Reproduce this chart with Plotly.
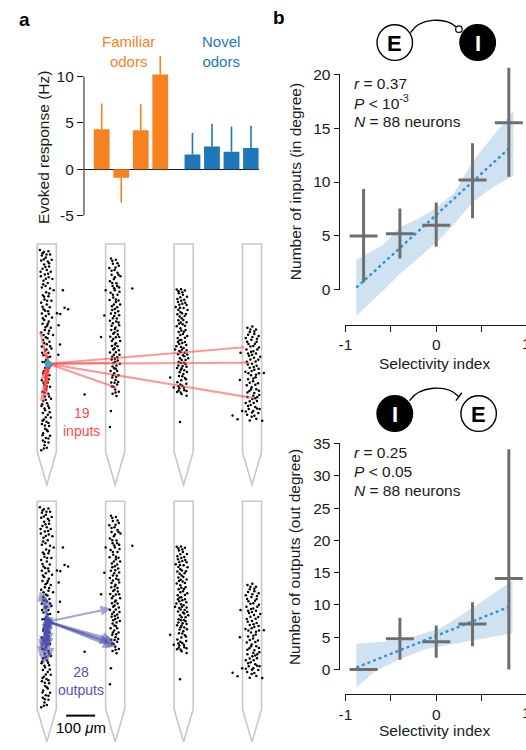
import plotly.graph_objects as go

FONT = "Liberation Sans, Arial, Helvetica, sans-serif"
W, H = 526, 750

# ---------------- data ----------------
familiar_resp = [4.3, -0.9, 4.2, 10.2]
familiar_err_end = [7.1, -3.6, 7.0, 12.2]
novel_resp = [1.6, 2.45, 1.9, 2.3]
novel_err_end = [3.9, 4.9, 4.6, 4.7]

selectivity_bins = [-0.8, -0.4, 0.0, 0.4, 0.8]
in_deg_mean = [5.0, 5.2, 6.0, 10.2, 15.5]
in_deg_hi = [9.35, 7.55, 8.1, 13.6, 20.6]
in_deg_lo = [0.7, 2.9, 4.0, 6.65, 10.5]
out_deg_mean = [0.0, 4.75, 4.3, 7.05, 14.1]
out_deg_hi = [0.0, 8.0, 6.8, 10.4, 34.1]
out_deg_lo = [0.0, 1.5, 1.8, 3.6, 0.0]

in_band_x = [-0.88, -0.6, -0.4, -0.2, 0.0, 0.2, 0.4, 0.6, 0.85]
in_band_hi = [2.8, 4.1, 5.8, 6.6, 7.6, 9.0, 11.9, 14.0, 16.6]
in_band_lo = [-2.4, -0.2, 1.5, 2.9, 4.4, 6.1, 8.1, 9.4, 10.6]
out_band_x = [-0.88, -0.67, -0.4, -0.13, 0.05, 0.42, 0.84]
out_band_hi = [4.0, 4.2, 4.5, 5.6, 6.4, 9.7, 13.8]
out_band_lo = [-2.8, -0.25, 1.6, 3.1, 3.6, 4.5, 5.6]
trend_x = [-0.88, 0.82]
in_trend = [0.2, 13.25]
out_trend = [0.3, 9.8]

# neuron positions (panel units) for each shank
shank1_dots = [(100,38),(112,44),(126,42),(106,55),(131,52),(118,61),(104,70),(124,73),(136,68),(113,82),(128,88),(108,95),(121,99),(133,104),(115,112),(103,118),(127,121),(138,126),(111,131),(124,138),(117,147),(106,152),(131,155),(142,160),(119,166),(109,175),(126,178),(114,188),(135,192),(104,198),(121,203),(130,212),(111,218),(125,224),(106,231),(118,238),(137,243),(113,250),(127,255),(108,262),(122,268),(133,274),(115,281),(104,288),(126,291),(140,296),(118,303),(110,311),(129,316),(121,324),(106,331),(135,337),(116,343),(126,350),(111,357),(131,362),(119,372),(108,378),(133,388),(116,396),(124,404),(110,412),(129,418),(117,425),(106,433),(124,440),(113,447),(131,453),(119,461),(108,468),(126,474),(115,482),(134,489),(110,496),(122,503),(105,511),(128,517),(116,524),(109,532),(124,538),(133,546),(112,552),(120,559),(106,566),(128,572),(116,580),(124,588),(110,594),(131,601),(118,608),(109,616),(126,622),(114,630),(121,638),(104,645),
               (108,48),(120,52),(112,66),(128,78),(117,90),(102,104),(125,110),(118,125),(110,142),(128,170),(113,180),(122,192),(108,210),(127,232),(116,222),(109,245),(124,262),(117,272),(128,283),(111,296),(123,306),(113,320),(131,330),(120,340),(107,350),(124,363),(115,378),(128,395),(112,406),(120,418),(127,430),(111,441),(121,452),(114,470),(128,482),(118,492),(107,506),(125,510),(114,519),(130,530),(118,545),(108,556),(126,563),(115,570),(121,584),(108,600),(126,610),(115,620),(112,640),
               (170,160),(175,213),(186,218),(162,232),(152,230),(157,266),(161,325),(156,356),(236,476)]
shank2_dots = [(316,64),(331,68),(322,80),(340,86),(311,93),(327,99),(336,107),(318,113),(345,118),(325,126),(313,133),(333,139),(321,147),(341,152),(328,160),(315,168),(336,174),(323,182),(312,190),(331,196),(344,203),(319,209),(328,217),(338,224),(316,231),(326,238),(334,246),(313,253),(322,260),(341,266),(330,273),(317,281),(327,288),(337,294),(314,301),(323,308),(344,314),(331,321),(319,329),(327,336),(340,342),(313,349),(325,356),(335,363),(318,370),(329,377),(343,383),(321,391),(331,398),(315,405),(326,412),(339,418),(320,425),(330,432),(317,440),(335,446),(324,453),(329,461),(340,468),(321,474),(333,481),
               (320,71),(336,78),(330,91),(318,101),(339,113),(328,121),(320,138),(335,147),(326,154),(342,165),(322,174),(331,188),(339,191),(325,203),(335,212),(320,220),(329,229),(341,236),(322,245),(332,255),(339,258),(318,268),(328,278),(336,283),(323,292),(331,303),(341,302),(319,314),(328,325),(336,330),(323,340),(331,348),(342,356),(320,362),(328,368),(337,373),(323,381),(333,388),(326,397),(335,405),(322,418),(332,423),(327,441),(338,438),(319,452),(330,470),
               (300,160),(381,155),(296,237),(286,302),(316,526),(313,575)]
shank3_dots = [(516,158),(529,157),(541,161),(523,169),(535,174),(547,180),(518,187),(530,192),(542,198),(524,204),(513,211),(537,214),(549,220),(527,226),(518,233),(540,238),(531,245),(521,251),(546,257),(534,263),(516,269),(527,275),(543,281),(522,287),(535,293),(548,299),(519,305),(530,311),(541,317),(524,323),(515,330),(537,335),(546,342),(528,348),(520,354),(539,360),(551,366),(531,372),(522,378),(543,384),(534,390),(517,396),(528,402),(547,408),(536,414),(523,420),(541,426),(530,433),(518,439),(545,444),(533,450),(524,457),(539,463),(517,469),(531,475),(546,480),
               (521,163),(533,166),(527,181),(539,189),(520,196),(533,201),(546,205),(526,213),(521,219),(532,230),(544,232),(525,240),(536,250),(528,258),(541,268),(523,262),(530,282),(538,286),(527,296),(541,304),(525,312),(533,320),(545,326),(520,317),(529,332),(540,350),(532,340),(524,344),(548,355),(535,357),(526,366),(543,372),(529,381),(538,380),(521,388),(546,392),(531,397),(539,403),(525,409),(533,421),(544,430),(527,446),(538,456),(521,451),(546,466),(528,470),(522,464),
               (496,425),(507,455),(526,560),(511,340)]
shank4_dots = [(731,274),(746,270),(757,279),(738,287),(752,293),(765,299),(726,305),(743,310),(759,316),(734,323),(749,329),(766,334),(728,340),(742,347),(757,352),(736,359),(751,365),(764,371),(729,377),(745,383),(759,389),(738,395),(752,401),(725,407),(766,412),(742,418),(756,424),(733,430),(748,436),(763,442),(729,448),(744,454),(758,460),(737,466),(752,472),(767,478),(731,484),(746,490),(760,496),(726,502),(741,508),(755,514),(735,520),(749,526),(764,532),(730,538),(744,544),(758,550),(738,555),
               (740,279),(752,285),(733,295),(746,302),(760,307),(730,316),(754,322),(740,331),(761,340),(749,345),(733,352),(745,356),(770,362),(740,370),(756,376),(732,385),(750,393),(765,398),(744,405),(734,412),(757,416),(749,428),(738,441),(755,447),(742,460),(766,465),(731,470),(749,480),(761,484),(755,488),(738,497),(750,502),(733,511),(760,519),(745,531),(752,541),(726,528),(768,520),
               (710,350),(708,432),(686,540),(701,551),(776,556),(715,526),(781,411)]

input_source = (125, 383)
input_targets = [(101,287),(112,330),(122,350),(325,380),(332,455),(722,333),(738,380),(750,487),(110,500),(115,470),(122,440),(108,420),(128,410),(118,405),(112,460),(120,480),(106,430),(130,395),(104,495)]
output_source = (125, 385)
output_targets = [(100,292),(110,300),(120,315),(315,345),(320,440),(328,450),(335,460),(322,462),(312,448),(100,490),(110,480),(118,470),(105,460),(115,440),(125,430),(112,425),(120,510),(130,495),(108,410),(122,400),(102,470),(126,465),(130,370),(115,365),(135,410),(110,515),(128,450),(118,372)]

# ---------------- helpers ----------------
def fx(p):
    return p / W

def fy(p):
    return 1 - p / H

def lin_range(v_a, p_a, v_b, p_b, p_start, p_end):
    k = (v_b - v_a) / (p_b - p_a)
    return [v_a + (p_start - p_a) * k, v_a + (p_end - p_a) * k]

ORANGE = "#f5821f"
BLUE = "#1f77b8"
GRAY = "#6e6e6e"
BAND = "rgba(130,180,222,0.38)"
TREND = "#3a8fd2"
INK = "#1a1a1a"

fig = go.Figure()

# ---------------- panel a: bars ----------------
GAP = 0.65
fam_pos = [i for i in range(len(familiar_resp))]
nov_pos = [len(familiar_resp) + GAP + i for i in range(len(novel_resp))]

def err_arrays(vals, ends):
    plus = [max(e - v, 0) for v, e in zip(vals, ends)]
    minus = [max(v - e, 0) for v, e in zip(vals, ends)]
    return plus, minus

fp, fm = err_arrays(familiar_resp, familiar_err_end)
npl, nm = err_arrays(novel_resp, novel_err_end)
fig.add_trace(go.Bar(x=fam_pos, y=familiar_resp, width=0.81, marker=dict(color=ORANGE, line=dict(width=0)),
                     error_y=dict(type="data", symmetric=False, array=fp, arrayminus=fm, width=0, thickness=1.6, color=ORANGE),
                     xaxis="x", yaxis="y"))
fig.add_trace(go.Bar(x=nov_pos, y=novel_resp, width=0.81, marker=dict(color=BLUE, line=dict(width=0)),
                     error_y=dict(type="data", symmetric=False, array=npl, arrayminus=nm, width=0, thickness=1.6, color=BLUE),
                     xaxis="x", yaxis="y"))

# ---------------- panel b: scatter panels ----------------
def add_b_panel(xa, ya, band_x, band_hi, band_lo, trend, mean, hi, lo):
    fig.add_trace(go.Scatter(x=band_x, y=band_lo, mode="lines", line=dict(width=0), hoverinfo="skip",
                             xaxis=xa, yaxis=ya))
    fig.add_trace(go.Scatter(x=band_x, y=band_hi, mode="lines", line=dict(width=0), fill="tonexty",
                             fillcolor=BAND, hoverinfo="skip", xaxis=xa, yaxis=ya))
    fig.add_trace(go.Scatter(x=trend_x, y=trend, mode="lines", line=dict(color=TREND, width=2.4, dash="dot"),
                             xaxis=xa, yaxis=ya))
    fig.add_trace(go.Scatter(x=selectivity_bins, y=mean, mode="markers",
                             marker=dict(symbol="line-ew", size=20, color=GRAY, line=dict(width=3, color=GRAY)),
                             error_y=dict(type="data", symmetric=False,
                                          array=[h - m for h, m in zip(hi, mean)],
                                          arrayminus=[m - l for m, l in zip(mean, lo)],
                                          width=0, thickness=3, color=GRAY),
                             xaxis=xa, yaxis=ya))

add_b_panel("x2", "y2", in_band_x, in_band_hi, in_band_lo, in_trend, in_deg_mean, in_deg_hi, in_deg_lo)
add_b_panel("x3", "y3", out_band_x, out_band_hi, out_band_lo, out_trend, out_deg_mean, out_deg_hi, out_deg_lo)

# ---------------- shank panels ----------------
BOTTOM_OFF = 780
all_dots = shank1_dots + shank2_dots + shank3_dots + shank4_dots
dx = [p[0] for p in all_dots]
dy = [p[1] for p in all_dots]
fig.add_trace(go.Scatter(x=dx + dx, y=dy + [v + BOTTOM_OFF for v in dy], mode="markers",
                         marker=dict(size=2.5, color="black"), xaxis="x4", yaxis="y4"))

lx, ly = [], []
for tx, ty in input_targets:
    lx += [input_source[0], tx, None]
    ly += [input_source[1], ty, None]
fig.add_trace(go.Scatter(x=lx, y=ly, mode="lines", line=dict(color="rgba(255,70,70,0.55)", width=2.2),
                         xaxis="x4", yaxis="y4"))
fig.add_trace(go.Scatter(x=[input_source[0], output_source[0]],
                         y=[input_source[1], output_source[1] + BOTTOM_OFF], mode="markers",
                         marker=dict(size=7, color="#1eaee8"), xaxis="x4", yaxis="y4"))

annotations = []
for tx, ty in output_targets:
    annotations.append(dict(x=tx, y=ty + BOTTOM_OFF, ax=output_source[0], ay=output_source[1] + BOTTOM_OFF,
                            xref="x4", yref="y4", axref="x4", ayref="y4", text="", showarrow=True,
                            arrowhead=2, arrowsize=1, arrowwidth=2, arrowcolor="rgba(80,80,175,0.5)"))

shapes = []
SHANK_CX = [121, 329, 537, 745]
for off in (0, BOTTOM_OFF):
    for c in SHANK_CX:
        shapes.append(dict(type="path", xref="x4", yref="y4",
                           path=f"M {c-29},{20+off} L {c+29},{20+off} L {c+29},{650+off} L {c},{750+off} L {c-29},{650+off} Z",
                           line=dict(color="#c8c8c8", width=1.6), layer="below"))
# scale bar
shapes.append(dict(type="line", xref="x4", yref="y4", x0=180, x1=268, y0=1450, y1=1450,
                   line=dict(color="black", width=2)))

# axis lines (bounded)
shapes.append(dict(type="line", xref="paper", yref="y", x0=fx(78), x1=fx(78), y0=-5, y1=10, line=dict(color=INK, width=1)))
shapes.append(dict(type="line", xref="paper", yref="y2", x0=fx(337), x1=fx(337), y0=0, y1=20, line=dict(color=INK, width=1)))
shapes.append(dict(type="line", xref="paper", yref="y3", x0=fx(337), x1=fx(337), y0=0, y1=35, line=dict(color=INK, width=1)))

# motif diagrams
def circle(cx, cy, r, fill, lw=1.4):
    return dict(type="circle", xref="paper", yref="paper", x0=fx(cx - r), x1=fx(cx + r), y0=fy(cy + r), y1=fy(cy - r),
                line=dict(color="black", width=lw), fillcolor=fill)

shapes += [circle(393, 43, 18, "white"), circle(477, 43, 18, "black"), circle(458, 29.5, 3.3, "white", 1.2),
           circle(393, 418, 18, "black"), circle(478, 418, 18, "white")]
shapes.append(dict(type="path", xref="paper", yref="paper",
                   path=f"M {fx(409)},{fy(33)} C {fx(418)},{fy(18)} {fx(444)},{fy(17)} {fx(455)},{fy(27)}",
                   line=dict(color="black", width=1.4)))
shapes.append(dict(type="path", xref="paper", yref="paper",
                   path=f"M {fx(408)},{fy(405)} C {fx(418)},{fy(390)} {fx(446)},{fy(388)} {fx(458)},{fy(401)}",
                   line=dict(color="black", width=1.4)))
shapes.append(dict(type="line", xref="paper", yref="paper", x0=fx(455), x1=fx(461), y0=fy(405), y1=fy(397),
                   line=dict(color="black", width=1.4)))

def txt(x, y, s, size=15.5, color=INK, **kw):
    d = dict(x=fx(x), y=fy(y), xref="paper", yref="paper", text=s, showarrow=False,
             xanchor="center", yanchor="middle",
             font=dict(family=FONT, size=size, color=color))
    d.update(kw)
    return d

annotations += [
    txt(18, 20, "<b>a</b>", size=19, color="black"),
    txt(276, 18, "<b>b</b>", size=19, color="black"),
    txt(123, 52, "Familiar<br>odors", size=15, color=ORANGE),
    txt(217, 52, "Novel<br>odors", size=15, color=BLUE),
    txt(37, 149, "Evoked response (Hz)", textangle=-90),
    txt(393, 44, "<b>E</b>", size=22, color="black"),
    txt(477, 44, "<b>I</b>", size=22, color="white"),
    txt(393, 419, "<b>I</b>", size=22, color="white"),
    txt(478, 419, "<b>E</b>", size=22, color="black"),
    txt(350, 84, "<i>r</i> = 0.37", xanchor="left"),
    txt(350, 103.5, "<i>P</i> < 10<sup>-3</sup>", xanchor="left"),
    txt(350, 123, "<i>N</i> = 88 neurons", xanchor="left"),
    txt(350, 457, "<i>r</i> = 0.25", xanchor="left"),
    txt(350, 476.5, "<i>P</i> < 0.05", xanchor="left"),
    txt(350, 495.5, "<i>N</i> = 88 neurons", xanchor="left"),
    txt(292, 184, "Number of inputs (in degree)", textangle=-90),
    txt(292, 563, "Number of outputs (out degree)", textangle=-90),
    txt(433, 367, "Selectivity index"),
    txt(433, 738, "Selectivity index"),
    txt(527, 347, "1"),
    txt(527, 720, "1"),
    txt(75, 427, "19<br>inputs", size=14, color="#ff4a4a"),
    txt(75, 688, "28<br>outputs", size=14, color="#5553b3"),
    txt(75, 735, "100 <i>μ</i>m", size=15, color="black"),
]

tick_common = dict(ticks="outside", ticklen=6, tickwidth=1, tickcolor=INK, showgrid=False, zeroline=False,
                   tickfont=dict(family=FONT, size=15.5, color=INK))

fig.update_layout(
    width=W, height=H, margin=dict(l=0, r=0, t=0, b=0),
    paper_bgcolor="white", plot_bgcolor="rgba(0,0,0,0)", showlegend=False,
    font=dict(family=FONT, size=15.5, color=INK),
    xaxis=dict(domain=[fx(78), fx(255)], range=lin_range(0, 96, 7.65, 247.3, 78, 255), visible=False),
    yaxis=dict(domain=[fy(218), fy(50)], range=lin_range(-5, 218, 10, 77.3, 218, 50),
               tickvals=[-5, 0, 5, 10], ticktext=["-5", "0", "5", "10"], showline=False,
               **{**tick_common, "zeroline": True}, zerolinecolor=INK, zerolinewidth=1),
    xaxis2=dict(domain=[fx(343), 1], range=lin_range(-1, 343, 1, 527, 343, 526), anchor="free", position=fy(328),
                showline=True, linecolor=INK, linewidth=1, tickvals=[-1, -0.5, 0, 0.5], ticktext=["-1", "", "0", ""],
                **tick_common),
    yaxis2=dict(domain=[fy(322), fy(60)], range=lin_range(0, 293, 20, 75, 322, 60), anchor="free", position=fx(337),
                showline=False, tickvals=[0, 5, 10, 15, 20], **tick_common),
    xaxis3=dict(domain=[fx(343), 1], range=lin_range(-1, 343, 1, 527, 343, 526), anchor="free", position=fy(701.7),
                showline=True, linecolor=INK, linewidth=1, tickvals=[-1, -0.5, 0, 0.5], ticktext=["-1", "", "0", ""],
                **tick_common),
    yaxis3=dict(domain=[fy(697), fy(440)], range=lin_range(0, 676.7, 35, 448.3, 697, 440), anchor="free",
                position=fx(337), showline=False, tickvals=[0, 5, 10, 15, 20, 25, 30, 35], **tick_common),
    xaxis4=dict(domain=[0, fx(270)], range=[0, 810], visible=False),
    yaxis4=dict(domain=[0, fy(240)], range=[1530, 0], visible=False, anchor="x4"),
    shapes=shapes, annotations=annotations,
)

fig.write_html("out.html")
